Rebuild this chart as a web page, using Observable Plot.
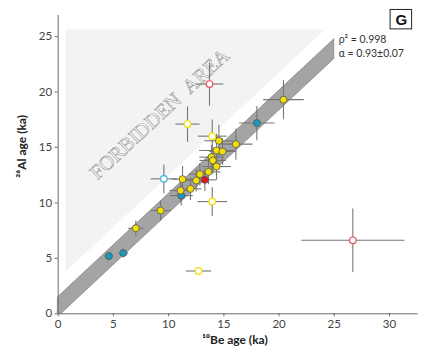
<!DOCTYPE html>
<html>
<head>
<meta charset="utf-8">
<script src="https://cdn.jsdelivr.net/npm/d3@7"></script>
<script src="https://cdn.jsdelivr.net/npm/@observablehq/plot@0.6"></script>
<style>
html, body { margin: 0; padding: 0; background: #fff; }
#chart svg { display: block; }
</style>
</head>
<body>
<div id="chart"></div>
<script>
// 10Be age (ka), 26Al age (ka), 1-sigma errors, group colour, filled?
const be10  = [4.59, 5.89, 7.03, 9.27, 11.14, 11.08, 11.98, 11.26, 12.50, 12.83, 13.28, 13.61, 14.34, 13.88, 14.00, 14.34, 14.88, 14.55, 16.09, 17.99, 20.40, 9.57, 11.71, 13.95, 13.95, 12.71, 13.70, 26.68];
const al26  = [5.21, 5.48, 7.71, 9.31, 10.66, 11.11, 11.27, 12.14, 12.02, 12.59, 12.08, 12.80, 13.28, 14.13, 13.83, 14.73, 14.64, 15.60, 15.30, 17.20, 19.31, 12.17, 17.11, 16.02, 10.12, 3.86, 20.72, 6.63];
const beErr = [0.4, 0.45, 0.7, 0.9, 1.05, 1.0, 1.0, 1.0, 1.0, 1.0, 1.0, 1.1, 1.3, 1.1, 1.2, 1.6, 1.2, 1.3, 1.5, 1.6, 1.84, 1.2, 1.1, 1.3, 1.35, 1.15, 1.25, 4.67];
const alErr = [0.4, 0.4, 0.7, 0.9, 0.9, 1.0, 1.0, 1.2, 1.0, 1.0, 1.0, 1.1, 1.2, 1.1, 1.2, 1.5, 1.2, 1.45, 1.4, 1.55, 1.76, 1.3, 1.6, 1.5, 1.3, 0.2, 1.95, 2.86];
const group = ["blue","blue","yellow","yellow","blue","yellow","yellow","yellow","yellow","yellow","red","yellow","yellow","yellow","yellow","yellow","yellow","yellow","yellow","blue","yellow","blue","yellow","yellow","yellow","yellow","red","red"];
const filled = [true,true,true,true,true,true,true,true,true,true,true,true,true,true,true,true,true,true,true,true,true,false,false,false,false,false,false,false];

// regression band (alpha = 0.93) and forbidden area outline, in ka
const bandX  = [0, 0.3, 25];
const bandLo = [0, 0, 22.97];
const bandHi = [1.5, 1.779, 24.75];
const forbX  = [0.72, 24.2];
const forbLo = [3.76, 25.6];
const forbHi = [25.6, 25.6];

const xTicks = [0, 5, 10, 15, 20, 25, 30];
const yTicks = [0, 5, 10, 15, 20, 25];

const fillCol = {yellow: "#f5e100", blue: "#1b98bd", red: "#e3141c"};
const openCol = {yellow: "#f2e200", blue: "#3eb1d9", red: "#ea4e57"};

const pts = be10.map((x, i) => ({x, y: al26[i], ex: beErr[i], ey: alErr[i], g: group[i], f: filled[i]}));
const band = bandX.map((x, i) => ({x, lo: bandLo[i], hi: bandHi[i]}));
const forb = forbX.map((x, i) => ({x, lo: forbLo[i], hi: forbHi[i]}));

const font = "Lato, 'Open Sans', sans-serif";

const chart = Plot.plot({
  width: 423,
  height: 348,
  marginLeft: 57.7,
  marginRight: 5.3,
  marginTop: 15,
  marginBottom: 34.7,
  style: {fontFamily: font, background: "#fff"},
  x: {domain: [0, 32.6]},
  y: {domain: [0, 26.9]},
  marks: [
    Plot.areaY(forb, {x: "x", y1: "lo", y2: "hi", fill: "#f3f3f3"}),
    Plot.text(["FORBIDDEN\u00a0\u00a0AREA"], {x: 3.15, y: 12.45, text: d => d, rotate: -42.8, textAnchor: "start",
      fontFamily: "'Liberation Serif', 'DejaVu Serif', serif", fontSize: 20.3,
      fill: "#fbfbfb", stroke: "#9a9a9a", strokeWidth: 0.6, paintOrder: "normal"}),
    Plot.areaY(band, {x: "x", y1: "lo", y2: "hi", fill: "#a4a4a4", stroke: "#858585", strokeWidth: 0.8}),
    Plot.ruleX([0], {y1: 0, y2: 26.9, stroke: "#6a6a6a", strokeWidth: 1}),
    Plot.ruleY([0], {x1: 0, x2: 32.6, stroke: "#6a6a6a", strokeWidth: 1}),
    Plot.axisX(xTicks, {tickSize: 3, tickPadding: 3, fontSize: 11.5, color: "#444", stroke: "#6a6a6a", label: null}),
    Plot.axisY(yTicks, {tickSize: 3, tickPadding: 3, fontSize: 11.5, color: "#444", stroke: "#6a6a6a", label: null}),
    Plot.link(pts, {x1: d => d.x - d.ex, x2: d => d.x + d.ex, y1: "y", y2: "y", stroke: "#777", strokeWidth: 1.1}),
    Plot.link(pts, {x1: "x", x2: "x", y1: d => d.y - d.ey, y2: d => d.y + d.ey, stroke: "#777", strokeWidth: 1.1}),
    Plot.dot(pts.filter(d => d.f), {x: "x", y: "y", r: 3.5, fill: d => fillCol[d.g], stroke: "#555", strokeWidth: 0.8}),
    Plot.dot(pts.filter(d => !d.f), {x: "x", y: "y", r: 3.3, fill: "#fff", stroke: d => openCol[d.g], strokeWidth: 1.2}),
    Plot.text(["ρ² = 0.998"], {x: 25.4, y: 24.7, text: d => d, textAnchor: "start", fontSize: 10.5, fill: "#333"}),
    Plot.text(["α = 0.93±0.07"], {x: 25.4, y: 23.45, text: d => d, textAnchor: "start", fontSize: 10.5, fill: "#333"}),
    Plot.rect([0], {x1: 30.1, x2: 32.05, y1: 25.65, y2: 27.4, fill: "#fff", stroke: "#222", strokeWidth: 1}),
    Plot.text(["G"], {x: 31.08, y: 26.5, text: d => d, fontSize: 15, fontWeight: "bold", fill: "#111", fontFamily: "Arial, 'Liberation Sans', sans-serif"}),
    Plot.text(["¹⁰Be age (ka)"], {x: 16.0, y: -2.4, text: d => d, fontSize: 12, fontWeight: "bold", fill: "#222"}),
    Plot.text(["²⁶Al age (ka)"], {x: -3.3, y: 15.1, text: d => d, rotate: -90, fontSize: 12, fontWeight: "bold", fill: "#222"})
  ]
});
document.getElementById("chart").appendChild(chart);
</script>
</body>
</html>
